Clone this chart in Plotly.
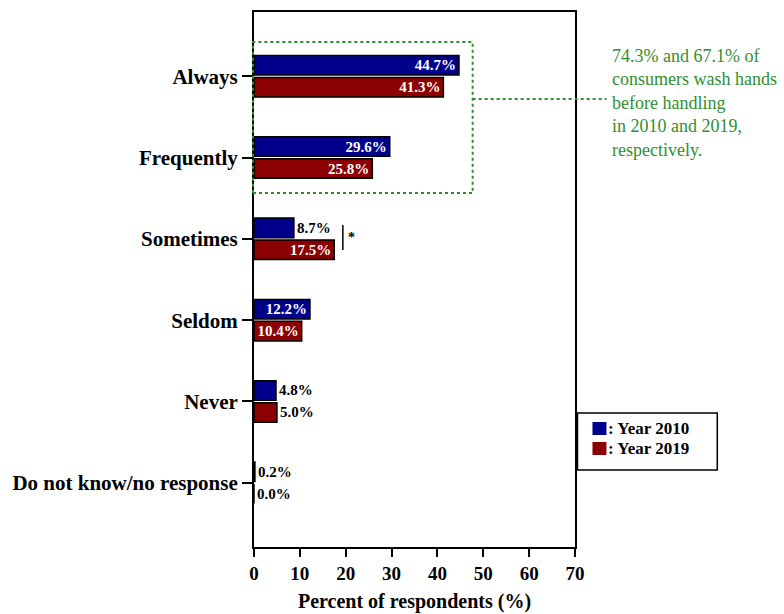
import plotly.graph_objects as go

# Hand-washing frequency before handling food, two survey years
categories = ["Always", "Frequently", "Sometimes", "Seldom", "Never",
              "Do not know/no response"]
year_2010 = [44.7, 29.6, 8.7, 12.2, 4.8, 0.2]
year_2019 = [41.3, 25.8, 17.5, 10.4, 5.0, 0.0]
pos_2010 = ["inside", "inside", "outside", "inside", "outside", "outside"]
pos_2019 = ["inside", "inside", "inside", "inside", "outside", "outside"]
series_names = [": Year 2010", ": Year 2019"]
x_ticks = [0, 10, 20, 30, 40, 50, 60, 70]

BLUE = "#00008B"
RED = "#8B0000"
GREEN = "#2f8f2f"
SERIF = "Liberation Serif, Times New Roman, serif"

W, H = 784, 614
L, R, T, B = 254, 575.5, 12, 547


def px(x):
    return (x - L) / (R - L)


def py(y):
    return (B - y) / (B - T)


fig = go.Figure()
for vals, pos, color in [(year_2010, pos_2010, BLUE), (year_2019, pos_2019, RED)]:
    fig.add_trace(go.Bar(
        x=vals, y=categories, orientation="h",
        marker=dict(color=color, line=dict(color="black", width=1.5)),
        texttemplate="%{x:.1f}%", textposition=pos,
        insidetextanchor="end",
        insidetextfont=dict(family=SERIF, size=15, color="white", weight="bold"),
        outsidetextfont=dict(family=SERIF, size=15, color="black", weight="bold"),
        cliponaxis=False, showlegend=False,
    ))

shapes = []
annotations = []

# dotted frame around "Always" + "Frequently" and its leader line
shapes.append(dict(type="rect", xref="paper", yref="paper",
                   x0=px(253), x1=px(473), y0=py(193), y1=py(42),
                   line=dict(color=GREEN, width=2, dash="dot")))
shapes.append(dict(type="line", xref="paper", yref="paper",
                   x0=px(473), x1=px(607), y0=py(99), y1=py(99),
                   line=dict(color=GREEN, width=2, dash="dot")))
annotations.append(dict(
    xref="paper", yref="paper", x=px(611), y=py(44),
    xanchor="left", yanchor="top", align="left", showarrow=False,
    text="74.3% and 67.1% of<br>consumers wash hands<br>before handling"
         "<br>in 2010 and 2019,<br>respectively.",
    font=dict(family=SERIF, size=18, color=GREEN)))

# significance marker between the two "Sometimes" bars
shapes.append(dict(type="line", xref="paper", yref="paper",
                   x0=px(343), x1=px(343), y0=py(225), y1=py(250),
                   line=dict(color="black", width=1.5)))
annotations.append(dict(xref="paper", yref="paper", x=px(346), y=py(238),
                        xanchor="left", yanchor="middle", showarrow=False,
                        text="*", font=dict(family=SERIF, size=14,
                                            color="black", weight="bold")))

# legend box
shapes.append(dict(type="rect", xref="paper", yref="paper",
                   x0=px(578), x1=px(718), y0=py(470), y1=py(413),
                   line=dict(color="black", width=1.5), fillcolor="white"))
for i, (name, color) in enumerate(zip(series_names, [BLUE, RED])):
    top = 422 + 20 * i
    shapes.append(dict(type="rect", xref="paper", yref="paper",
                       x0=px(593), x1=px(607), y0=py(top + 13), y1=py(top),
                       line=dict(width=0), fillcolor=color))
    annotations.append(dict(xref="paper", yref="paper", x=px(607),
                            y=py(top + 6.5), xanchor="left", yanchor="middle",
                            showarrow=False, text=name,
                            font=dict(family=SERIF, size=17, color="black",
                                      weight="bold")))

fig.update_layout(
    width=W, height=H,
    margin=dict(l=L, r=W - R, t=T, b=H - B, pad=0),
    paper_bgcolor="white", plot_bgcolor="white",
    barmode="group", bargap=0.46, bargroupgap=0.11,
    uniformtext=dict(minsize=15, mode="show"),
    shapes=shapes, annotations=annotations,
    xaxis=dict(
        range=[0, 70], tickvals=x_ticks, showgrid=False, zeroline=False,
        automargin=False,
        showline=True, mirror=True, linecolor="black", linewidth=2,
        ticks="outside", ticklen=8, tickwidth=2, tickcolor="black",
        tickfont=dict(family=SERIF, size=19, color="black", weight="bold"),
        title=dict(text="Percent of respondents (%)", standoff=11,
                   font=dict(family=SERIF, size=20, color="black",
                             weight="bold")),
    ),
    yaxis=dict(
        type="category", categoryorder="array", categoryarray=categories,
        range=[5.79, -0.79], showgrid=False, zeroline=False,
        automargin=False,
        showline=True, mirror=True, linecolor="black", linewidth=2,
        ticks="outside", ticklen=10, tickwidth=2, tickcolor="black",
        tickfont=dict(family=SERIF, size=21, color="black", weight="bold"),
    ),
)

fig.write_html("out.html")
